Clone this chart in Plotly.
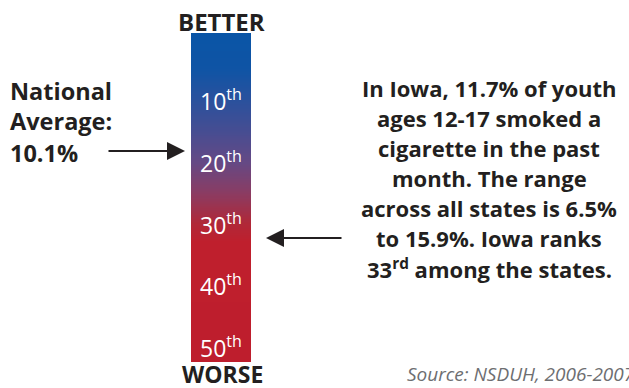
import numpy as np
import plotly.graph_objects as go

W, H = 629, 388

# Rank scale tick labels (state rankings)
rank_ticks = [10, 20, 30, 40, 50]
rank_labels = ["10<sup>th</sup>", "20<sup>th</sup>", "30<sup>th</sup>", "40<sup>th</sup>", "50<sup>th</sup>"]

# Extent of the gradient bar in rank units
bar_top_rank = -0.85
bar_bottom_rank = 52.4

# Gradient colour stops (by rank)
stop_ranks = [-0.85, 5, 10, 15, 20, 25, 30, 33, 52.4]
stop_colors = ["#0a55a6", "#0f54a5", "#2a519d", "#464d92", "#644985",
               "#8a3c63", "#b02838", "#bf1f2d", "#be1e2d"]

national_avg_lines = ["National", "Average:", "10.1%"]
iowa_lines = [
    "In Iowa, 11.7% of youth",
    "ages 12-17 smoked a",
    "cigarette in the past",
    "month. The range",
    "across all states is 6.5%",
    "to 15.9%. Iowa ranks",
    "33<sup>rd</sup> among the states.",
]
source_text = "Source: NSDUH, 2006-2007"

# Build heatmap of gradient
n = 300
edges = np.linspace(bar_top_rank, bar_bottom_rank, n + 1)
centers = (edges[:-1] + edges[1:]) / 2
z = centers.reshape(-1, 1)
zmin, zmax = stop_ranks[0], stop_ranks[-1]
colorscale = [[(r - zmin) / (zmax - zmin), c] for r, c in zip(stop_ranks, stop_colors)]

fig = go.Figure()
fig.add_trace(go.Heatmap(
    z=z, x=[-0.5, 0.5], y=edges,
    colorscale=colorscale, zmin=zmin, zmax=zmax,
    showscale=False, hoverinfo="skip",
))

dark = "#231f20"
bold_font = "Open Sans"

annotations = []
for r, lab in zip(rank_ticks, rank_labels):
    annotations.append(dict(
        x=0, y=r, xref="x", yref="y", text=lab, showarrow=False,
        font=dict(family="Open Sans", size=23, color="white"),
        xanchor="center", yanchor="middle", borderpad=0,
    ))

def px(x):
    return x / W

def py(y):
    return 1 - y / H

annotations.append(dict(x=px(221), y=py(21), xref="paper", yref="paper",
                         text="<b>BETTER</b>", showarrow=False,
                         font=dict(family=bold_font, size=24, color=dark),
                         xanchor="center", yanchor="middle"))
annotations.append(dict(x=px(222), y=py(374), xref="paper", yref="paper",
                         text="<b>WORSE</b>", showarrow=False,
                         font=dict(family=bold_font, size=23, color=dark),
                         xanchor="center", yanchor="middle", borderpad=0))

left_y = [90.5, 121, 153]
for t, yy in zip(national_avg_lines, left_y):
    annotations.append(dict(x=px(8), y=py(yy), xref="paper", yref="paper",
                            text="<b>" + t + "</b>", showarrow=False,
                            font=dict(family=bold_font, size=23.5, color=dark),
                            xanchor="left", yanchor="middle"))

for i, t in enumerate(iowa_lines):
    annotations.append(dict(x=px(489), y=py(88 + 30 * i), xref="paper", yref="paper",
                            text="<b>" + t + "</b>", showarrow=False,
                            font=dict(family=bold_font, size=22, color=dark),
                            xanchor="center", yanchor="middle"))

# arrows
annotations.append(dict(x=px(185), y=py(151), xref="paper", yref="paper",
                        ax=-78, ay=0, text="", showarrow=True,
                        arrowhead=2, arrowsize=1.8, arrowwidth=2, arrowcolor=dark))
annotations.append(dict(x=px(266), y=py(238), xref="paper", yref="paper",
                        ax=77, ay=0, text="", showarrow=True,
                        arrowhead=2, arrowsize=1.8, arrowwidth=2, arrowcolor=dark))

annotations.append(dict(x=px(405), y=py(374), xref="paper", yref="paper",
                        text="<i>" + source_text + "</i>", showarrow=False,
                        font=dict(family="Open Sans", size=19, color="#6d6e71"),
                        xanchor="left", yanchor="middle"))

scale = (362 - 33) / (bar_bottom_rank - bar_top_rank)
y_top = bar_top_rank - 33 / scale
y_bot = bar_bottom_rank + (H - 362) / scale

fig.update_layout(
    width=W, height=H,
    margin=dict(l=0, r=0, t=0, b=0),
    paper_bgcolor="white", plot_bgcolor="white",
    xaxis=dict(domain=[191 / W, 251 / W], range=[-0.5, 0.5], visible=False, fixedrange=True),
    yaxis=dict(range=[y_bot, y_top], visible=False, fixedrange=True),
    annotations=annotations,
    showlegend=False,
)

fig.write_html("out.html", config={"displayModeBar": False},
               post_script="document.body.style.margin='0';document.body.style.overflow='hidden';")
